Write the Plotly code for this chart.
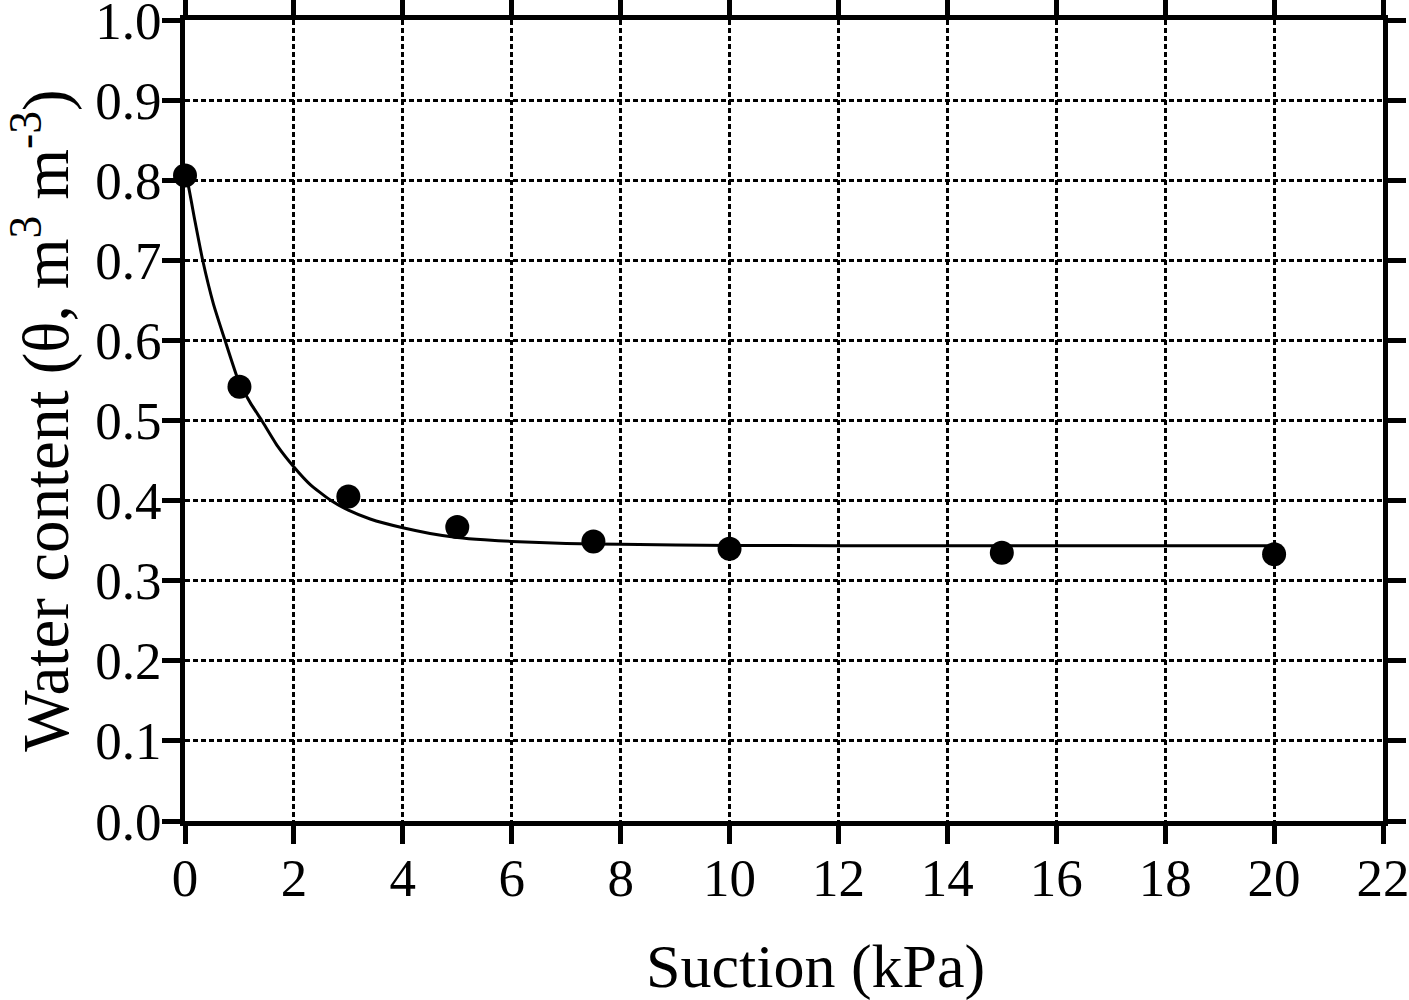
import plotly.graph_objects as go

# Measured data points
suction = [0, 1, 3, 5, 7.5, 10, 15, 20]
water_content = [0.806, 0.542, 0.405, 0.367, 0.349, 0.340, 0.335, 0.333]

# Fitted curve
fit_x = [0, 0.04, 0.18, 0.325, 0.52, 0.735, 0.98, 1.2, 1.41, 1.7, 2.0, 2.3, 2.66, 3.0, 3.4, 4.0, 4.5, 5.0, 5.5, 6.0, 7.0, 8.0, 10, 12, 15, 20]
fit_y = [0.806, 0.80, 0.75, 0.70, 0.646, 0.60, 0.55, 0.522, 0.50, 0.468, 0.442, 0.42, 0.401, 0.388, 0.377, 0.366, 0.359, 0.354, 0.351, 0.349, 0.3465, 0.3455, 0.344, 0.3437, 0.3435, 0.3435]

x_ticks = list(range(0, 23, 2))
y_ticks = [round(i * 0.1, 1) for i in range(11)]

FONT = "Liberation Serif, Times New Roman, serif"

fig = go.Figure()
fig.add_trace(go.Scatter(x=fit_x, y=fit_y, mode="lines",
                         line=dict(color="black", width=3, shape="spline", smoothing=0.5),
                         showlegend=False, cliponaxis=False))
fig.add_trace(go.Scatter(x=suction, y=water_content, mode="markers",
                         marker=dict(color="black", size=24),
                         showlegend=False, cliponaxis=False))

axis_common = dict(
    showline=True, linecolor="black", linewidth=5, mirror="allticks",
    ticks="outside", ticklen=18, tickwidth=5, tickcolor="black",
    showgrid=True, gridcolor="black", gridwidth=2.5, griddash="5px,3px",
    zeroline=False, automargin=False, ticklabeloverflow="allow",
    tickfont=dict(family=FONT, size=53, color="black"),
)

fig.update_xaxes(range=[0, 22], tickvals=x_ticks, ticklabelstandoff=-12, **axis_common)
fig.update_yaxes(range=[0, 1.0], tickvals=y_ticks, tickformat=".1f", ticklabelstandoff=-10,
                 title=dict(text="Water content (θ, m<sup>3</sup> m<sup>-3</sup>)",
                            font=dict(family=FONT, size=65, color="black"), standoff=20),
                 **axis_common)

fig.add_annotation(text="Suction (kPa)", xref="paper", yref="paper",
                   x=(815 - 185) / 1198, y=(821 - 966) / 801,
                   xanchor="center", yanchor="middle", showarrow=False,
                   font=dict(family=FONT, size=62, color="black"))

fig.update_layout(width=1409, height=1000, plot_bgcolor="white", paper_bgcolor="white",
                  margin=dict(l=185, r=26, t=20, b=179))

fig.write_html("out.html", config={"displayModeBar": False},
               post_script="document.body.style.margin='0';document.body.style.overflow='hidden';")
